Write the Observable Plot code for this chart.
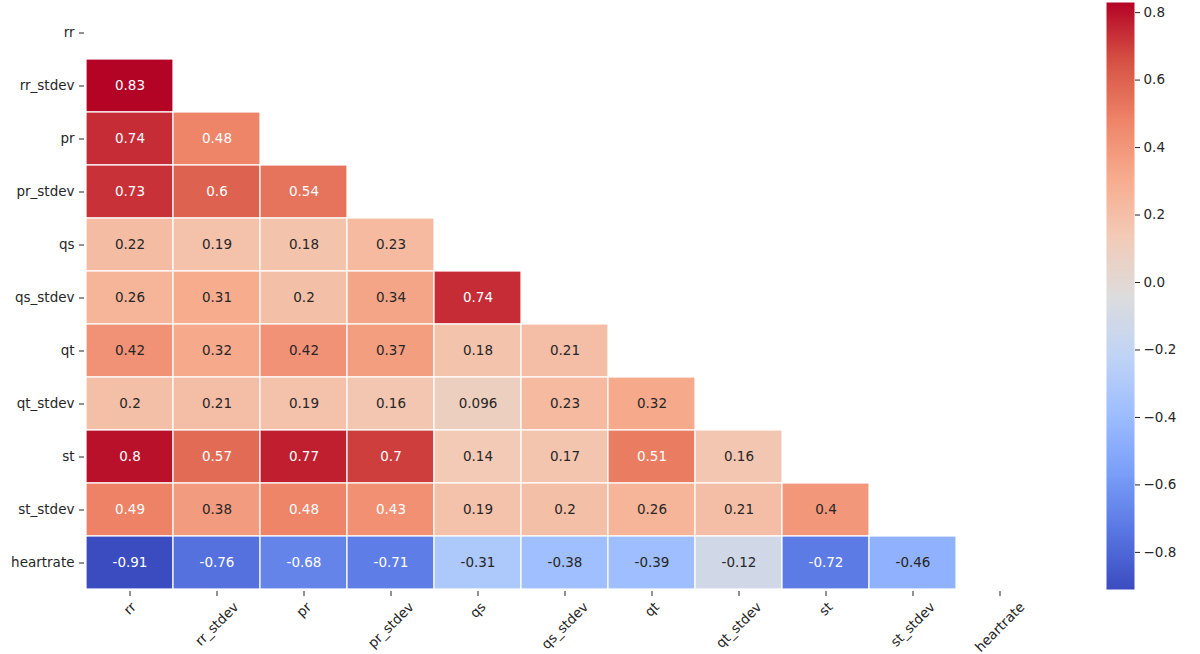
<!DOCTYPE html>
<html>
<head>
<meta charset="utf-8">
<script src="https://cdn.jsdelivr.net/npm/d3@7"></script>
<script src="https://cdn.jsdelivr.net/npm/@observablehq/plot@0.6"></script>
<style>
  html, body { margin: 0; padding: 0; background: #fff; }
  #wrap { position: relative; width: 1200px; height: 654px; }
  #main { position: absolute; left: 0; top: 0; }
  #cbar { position: absolute; left: 1080px; top: 0; }
</style>
</head>
<body>
<div id="wrap"><div id="main"></div><div id="cbar"></div></div>
<script>
// ---- data ----
const labels = ["rr", "rr_stdev", "pr", "pr_stdev", "qs", "qs_stdev", "qt", "qt_stdev", "st", "st_stdev", "heartrate"];
const row_rr = [];
const row_rr_stdev = [0.83];
const row_pr = [0.74, 0.48];
const row_pr_stdev = [0.73, 0.6, 0.54];
const row_qs = [0.22, 0.19, 0.18, 0.23];
const row_qs_stdev = [0.26, 0.31, 0.2, 0.34, 0.74];
const row_qt = [0.42, 0.32, 0.42, 0.37, 0.18, 0.21];
const row_qt_stdev = [0.2, 0.21, 0.19, 0.16, 0.096, 0.23, 0.32];
const row_st = [0.8, 0.57, 0.77, 0.7, 0.14, 0.17, 0.51, 0.16];
const row_st_stdev = [0.49, 0.38, 0.48, 0.43, 0.19, 0.2, 0.26, 0.21, 0.4];
const row_heartrate = [-0.91, -0.76, -0.68, -0.71, -0.31, -0.38, -0.39, -0.12, -0.72, -0.46];
const colorbarTicks = [-0.8, -0.6, -0.4, -0.2, 0, 0.2, 0.4, 0.6, 0.8];
const vmin = -0.91, vmax = 0.83;
// matplotlib "coolwarm" sampled at t = 0, 0.1, ..., 1
const coolwarm = ["#3b4cc0", "#5977e3", "#7b9ff9", "#9ebeff", "#c0d4f5", "#dddcdc", "#f2cbb7", "#f7ac8e", "#ee8468", "#d65244", "#b40426"];

const rows = [row_rr, row_rr_stdev, row_pr, row_pr_stdev, row_qs, row_qs_stdev, row_qt, row_qt_stdev, row_st, row_st_stdev, row_heartrate];
const cells = [];
rows.forEach((vals, i) => vals.forEach((v, j) => cells.push({row: labels[i], col: labels[j], value: v})));

const colorOpts = {
  type: "linear",
  domain: coolwarm.map((_, i) => vmin + (vmax - vmin) * i / (coolwarm.length - 1)),
  range: coolwarm,
  interpolate: "rgb"
};
const cscale = Plot.scale({color: colorOpts});
function lum(c) {
  const rgb = d3.rgb(c);
  const f = x => { x /= 255; return x <= 0.03928 ? x / 12.92 : Math.pow((x + 0.055) / 1.055, 2.4); };
  return 0.2126 * f(rgb.r) + 0.7152 * f(rgb.g) + 0.0722 * f(rgb.b);
}
const isDark = d => lum(cscale.apply(d.value)) < 0.403;
const fmt = v => String(v);

const FONT = "DejaVu Sans";
const FS = 13.5;
const ctx = document.createElement("canvas").getContext("2d");
ctx.font = `${FS}px "${FONT}"`;
const xLabelMarks = labels.map(l => {
  const w = ctx.measureText(l).width;
  const off = (w + FS * 1.1) / (2 * Math.SQRT2);
  return Plot.text([l], {x: d => d, frameAnchor: "bottom", dy: 8 + off, rotate: -45,
    textAnchor: "middle", lineAnchor: "middle", fontSize: FS, fill: "#262626"});
});

const main = Plot.plot({
  width: 1080, height: 654,
  marginLeft: 84, marginRight: 36, marginTop: 3, marginBottom: 63,
  style: {fontFamily: FONT, fontSize: FS + "px", color: "#262626", background: "white"},
  x: {type: "band", domain: labels, padding: 0},
  y: {type: "band", domain: labels, padding: 0},
  color: colorOpts,
  marks: [
    Plot.cell(cells, {x: "col", y: "row", fill: "value", stroke: "white", strokeWidth: 1.2}),
    Plot.text(cells.filter(isDark), {x: "col", y: "row", text: d => fmt(d.value), fill: "white", fontSize: FS}),
    Plot.text(cells.filter(d => !isDark(d)), {x: "col", y: "row", text: d => fmt(d.value), fill: "#262626", fontSize: FS}),
    Plot.axisY({tickSize: 5, tickPadding: 5, label: null, fontSize: FS, stroke: "#262626"}),
    Plot.axisX({tickSize: 5, tickFormat: () => "", label: null, stroke: "#262626"}),
    ...xLabelMarks
  ]
});
document.getElementById("main").appendChild(main);

const cbar = Plot.plot({
  width: 120, height: 654,
  marginLeft: 26, marginRight: 66, marginTop: 2, marginBottom: 65,
  style: {fontFamily: FONT, fontSize: FS + "px", color: "#262626", background: "white"},
  x: {domain: [0, 1], axis: null},
  y: {domain: [vmin, vmax]},
  color: colorOpts,
  marks: [
    Plot.raster({x1: 0, x2: 1, y1: vmin, y2: vmax, width: 2, height: 600, fill: (x, y) => y, imageRendering: "auto"}),
    Plot.axisY({anchor: "right", ticks: colorbarTicks, tickFormat: d3.format(".1f"), tickSize: 5, tickPadding: 4, label: null, fontSize: FS, stroke: "#262626"})
  ]
});
document.getElementById("cbar").appendChild(cbar);
</script>
</body>
</html>
